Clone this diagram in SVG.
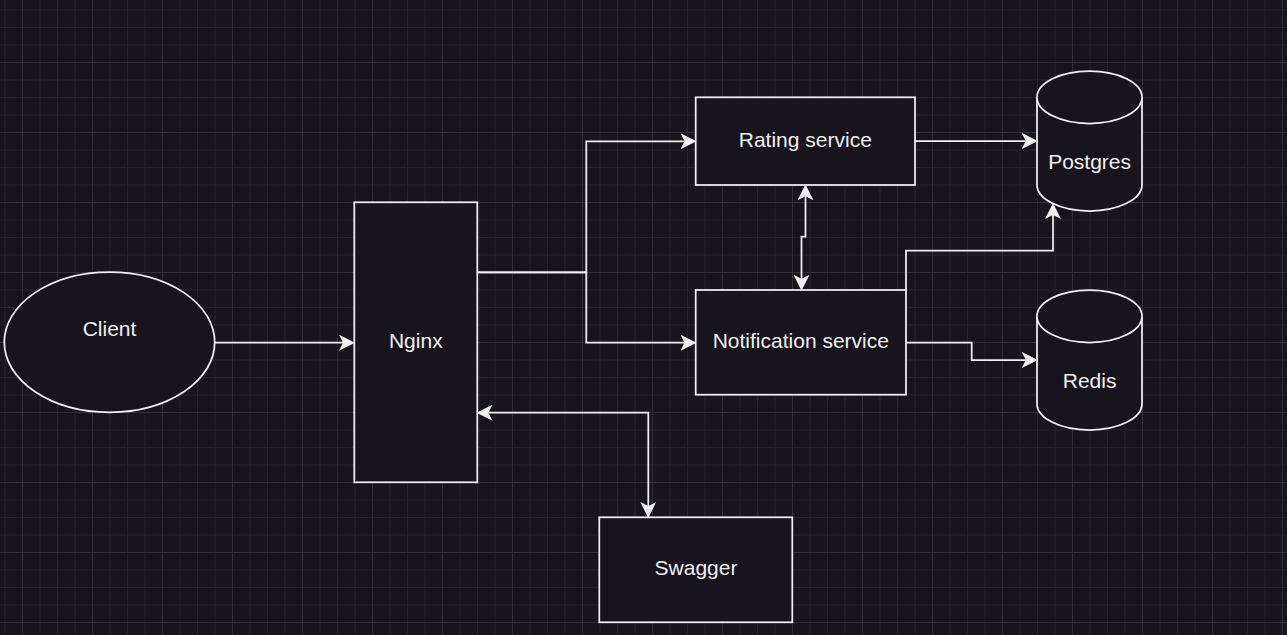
<svg xmlns="http://www.w3.org/2000/svg" width="1287" height="635" viewBox="0 0 1287 635">
  <style>
    .shape { fill: #18141d; stroke: #f0f0f0; stroke-width: 1.75; }
    .label { fill: #f0f0f0; font-family: "Liberation Sans", Arial, sans-serif; font-size: 21px; text-anchor: middle; }
    .edge { fill: none; stroke: #f0f0f0; stroke-width: 1.75; }
  </style>
  <defs>
    <pattern id="grid" patternUnits="userSpaceOnUse" x="22" y="62" width="70" height="70">
      <rect x="17.5" y="0" width="1" height="70" fill="#25222a"/>
      <rect x="35" y="0" width="1" height="70" fill="#25222a"/>
      <rect x="52.5" y="0" width="1" height="70" fill="#25222a"/>
      <rect x="0" y="17.5" width="70" height="1" fill="#25222a"/>
      <rect x="0" y="35" width="70" height="1" fill="#25222a"/>
      <rect x="0" y="52.5" width="70" height="1" fill="#25222a"/>
      <rect x="0" y="0" width="1" height="70" fill="#322f37"/>
      <rect x="0" y="0" width="70" height="1" fill="#322f37"/>
    </pattern>
    <marker id="arrow" markerUnits="userSpaceOnUse" markerWidth="16" markerHeight="16" viewBox="0 0 15 15" refX="3.75" refY="7.5" orient="auto-start-reverse">
      <path d="M15,7.5 L0,0 L3.75,7.5 L0,15 Z" fill="#f0f0f0"/>
    </marker>
  </defs>
  <rect width="1287" height="635" fill="#18141d"/>
  <rect width="1287" height="635" fill="url(#grid)"/>

  <g id="connectors">
    <path class="edge" d="M214.7,342.7 L343,342.7" marker-end="url(#arrow)"/>
    <path class="edge" d="M477.3,272.3 L586.3,272.3 L586.3,141.3 L684.5,141.3" marker-end="url(#arrow)"/>
    <path class="edge" d="M477.3,272.3 L586.3,272.3 L586.3,342.7 L684.5,342.7" marker-end="url(#arrow)"/>
    <path class="edge" d="M805.5,196.3 L805.5,236.7 L801.5,236.7 L801.5,278.8" marker-start="url(#arrow)" marker-end="url(#arrow)"/>
    <path class="edge" d="M488.5,412.7 L648.3,412.7 L648.3,506" marker-start="url(#arrow)" marker-end="url(#arrow)"/>
    <path class="edge" d="M915,141 L1025.8,141" marker-end="url(#arrow)"/>
    <path class="edge" d="M906,290 L906,250.7 L1053,250.7 L1053,215" marker-end="url(#arrow)"/>
    <path class="edge" d="M906,342.7 L971.7,342.7 L971.7,360 L1025.8,360" marker-end="url(#arrow)"/>
  </g>

  <g id="client">
    <ellipse class="shape" cx="109.5" cy="342.2" rx="105.2" ry="70.1"/>
    <text class="label" x="109.5" y="336">Client</text>
  </g>
  <g id="nginx">
    <rect class="shape" x="354.3" y="202.3" width="123" height="280"/>
    <text class="label" x="415.8" y="348">Nginx</text>
  </g>
  <g id="rating-service">
    <rect class="shape" x="695.7" y="97.3" width="219.3" height="87.7"/>
    <text class="label" x="805.3" y="147">Rating service</text>
  </g>
  <g id="notification-service">
    <rect class="shape" x="695.7" y="290" width="210.3" height="104.7"/>
    <text class="label" x="800.8" y="348.3">Notification service</text>
  </g>
  <g id="swagger">
    <rect class="shape" x="599.3" y="517.3" width="193" height="105"/>
    <text class="label" x="696" y="575.3">Swagger</text>
  </g>
  <g id="postgres">
    <path class="shape" d="M1037,97.25 A52.5,26.25 0 0 1 1142,97.25 L1142,184.75 A52.5,26.25 0 0 1 1037,184.75 Z"/>
    <path class="shape" d="M1037,97.25 A52.5,26.25 0 0 0 1142,97.25" fill="none"/>
    <text class="label" x="1089.6" y="168.7">Postgres</text>
  </g>
  <g id="redis">
    <path class="shape" d="M1037,316.25 A52.5,26.25 0 0 1 1142,316.25 L1142,403.75 A52.5,26.25 0 0 1 1037,403.75 Z"/>
    <path class="shape" d="M1037,316.25 A52.5,26.25 0 0 0 1142,316.25" fill="none"/>
    <text class="label" x="1089.6" y="388.3">Redis</text>
  </g>
</svg>
